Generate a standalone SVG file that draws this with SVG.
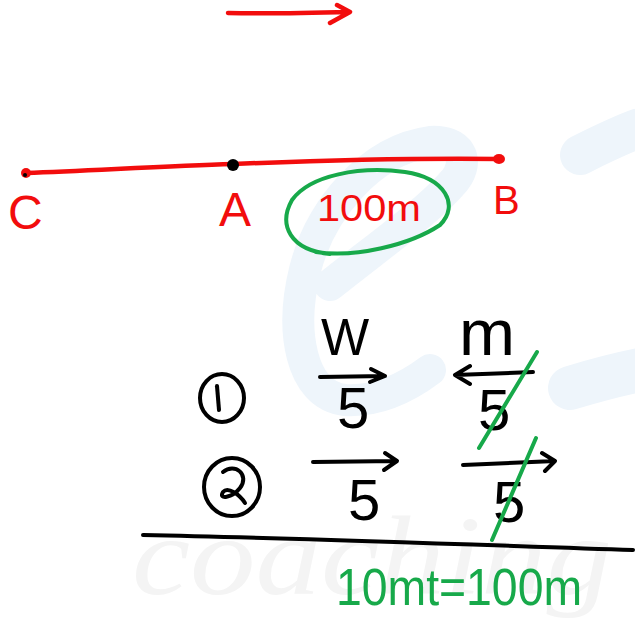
<svg xmlns="http://www.w3.org/2000/svg" width="635" height="622" viewBox="0 0 635 622">
<defs>
<style>
.red{stroke:#f20d0d;fill:none;stroke-width:4.5;stroke-linecap:round;stroke-linejoin:round}
.blk{stroke:#000;fill:none;stroke-width:4;stroke-linecap:round;stroke-linejoin:round}
.grn{stroke:#17a94a;fill:none;stroke-width:4;stroke-linecap:round;stroke-linejoin:round}
.wm{stroke:#eef5fb;fill:none;stroke-linecap:round;stroke-linejoin:round}
.lr{font-family:"Liberation Sans",Arial,sans-serif;fill:#f20d0d}
.lb{font-family:"Liberation Sans",Arial,sans-serif;fill:#000}
.lg{font-family:"Liberation Sans",Arial,sans-serif;fill:#17a94a}
</style>
</defs>
<rect width="635" height="622" fill="#fff"/>
<g id="watermark">
<path class="wm" stroke-width="32" d="M330 285 C380 245 430 210 455 180 C470 160 460 140 430 142 C370 150 320 210 305 270 C290 330 300 395 345 400 C380 402 410 385 430 370"/>
<path class="wm" stroke-width="40" d="M580 155 C600 145 620 135 640 128"/>
<path class="wm" stroke-width="44" d="M570 388 C590 382 615 375 640 370"/>
<text x="132" y="594" font-family="'Liberation Serif',serif" font-style="italic" font-size="112" textLength="480" lengthAdjust="spacingAndGlyphs" fill="#f4f4f4">coaching</text>
</g>
<g id="top-arrow">
<path class="red" d="M228 13 C270 14 310 13 350 12 M337 5 L350 12 L330 23"/>
</g>
<g id="connectors">
<path class="red" d="M26 173 C100 170 170 166 233 164 C330 160 420 158 500 159"/>
</g>
<g id="node-C">
<circle cx="26" cy="173" r="5" fill="#f20d0d"/>
<circle cx="25" cy="175" r="2" fill="#000"/>
<text class="lr" x="8" y="229" font-size="48">C</text>
</g>
<g id="node-A">
<circle cx="233" cy="165" r="6" fill="#000"/>
<text class="lr" x="219" y="226" font-size="48">A</text>
</g>
<g id="node-B">
<ellipse cx="499" cy="159" rx="6" ry="5" fill="#f20d0d"/>
<text class="lr" x="493" y="214" font-size="40">B</text>
</g>
<g id="distance">
<path class="grn" d="M316 252 C355 258 410 245 440 225 C460 205 445 178 405 172 C360 166 310 175 292 200 C278 225 290 250 330 254"/>
<text class="lr" x="317" y="221" font-size="37" textLength="104" lengthAdjust="spacingAndGlyphs">100m</text>
</g>
<g id="headers">
<text class="lb" x="321" y="355" font-size="51">W</text>
<text class="lb" x="459" y="355" font-size="64" textLength="56" lengthAdjust="spacingAndGlyphs">m</text>
</g>
<g id="row-1">
<ellipse class="blk" cx="222" cy="398" rx="22" ry="24"/>
<path class="blk" d="M217 386 L219 410"/>
<path class="blk" d="M320 377 L385 376 M371 369 L385 376 L370 382"/>
<text class="lb" x="337" y="428" font-size="58">5</text>
<path class="blk" d="M533 372 L455 375 M470 366 L455 375 L470 384"/>
<text class="lb" x="478" y="430" font-size="58">5</text>
<path class="grn" d="M479 448 L537 352"/>
</g>
<g id="row-2">
<ellipse class="blk" cx="232" cy="487" rx="28" ry="29"/>
<path class="blk" d="M223 472 C235 462 250 475 240 488 C232 498 218 500 223 492 C228 486 240 495 245 503"/>
<path class="blk" d="M313 462 L397 461 M385 453 L397 461 L384 470"/>
<text class="lb" x="348" y="520" font-size="58">5</text>
<path class="blk" d="M463 465 L555 461 M542 453 L555 461 L545 471"/>
<text class="lb" x="493" y="522" font-size="58">5</text>
<path class="grn" d="M492 540 L536 438"/>
</g>
<g id="sum">
<path class="blk" d="M143 535 C300 538 480 545 633 550"/>
<text class="lg" x="336" y="605" font-size="52" textLength="246" lengthAdjust="spacingAndGlyphs">10mt=100m</text>
</g>
</svg>
